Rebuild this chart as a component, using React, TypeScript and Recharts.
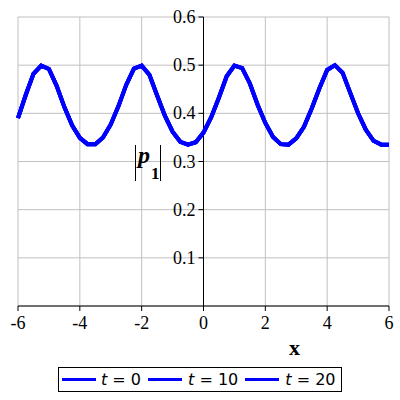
import {
  LineChart,
  Line,
  XAxis,
  YAxis,
  CartesianGrid,
  ReferenceLine,
} from "recharts";

// sample positions along x
const xValues = [
  -6, -5.75, -5.5, -5.25, -5, -4.75, -4.5, -4.25, -4, -3.75, -3.5, -3.25, -3,
  -2.75, -2.5, -2.25, -2, -1.75, -1.5, -1.25, -1, -0.75, -0.5, -0.25, 0, 0.25,
  0.5, 0.75, 1, 1.25, 1.5, 1.75, 2, 2.25, 2.5, 2.75, 3, 3.25, 3.5, 3.75, 4,
  4.25, 4.5, 4.75, 5, 5.25, 5.5, 5.75, 6,
];

// |p1|, the three times lie on top of each other
const p1T0 = [
  0.39, 0.438, 0.482, 0.499, 0.492, 0.457, 0.413, 0.375, 0.349, 0.336, 0.336,
  0.35, 0.377, 0.415, 0.459, 0.493, 0.499, 0.48, 0.437, 0.395, 0.362, 0.341,
  0.335, 0.34, 0.36, 0.392, 0.433, 0.477, 0.499, 0.494, 0.462, 0.418, 0.38,
  0.351, 0.336, 0.335, 0.348, 0.372, 0.41, 0.452, 0.49, 0.5, 0.484, 0.442, 0.4,
  0.366, 0.343, 0.335, 0.335,
];
const p1T10 = p1T0;
const p1T20 = p1T0;

const seriesNames = ["t = 0", "t = 10", "t = 20"];
const seriesKeys = ["t0", "t10", "t20"];
const xTicks = [-6, -4, -2, 0, 2, 4, 6];
const yTicks = [0.1, 0.2, 0.3, 0.4, 0.5, 0.6];

const data = xValues.map((x, i) => ({
  x,
  t0: p1T0[i],
  t10: p1T10[i],
  t20: p1T20[i],
}));

const W = 400;
const H = 400;
const xAxisHeight = 30;
const margin = { top: 17, right: 11, bottom: 94 - xAxisHeight, left: 17 };
const yAxisWidth = 1;
// pixel where x = 0 sits, the y axis is drawn there
const plotLeft = margin.left + yAxisWidth;
const X0 = plotLeft + ((W - plotLeft - margin.right) * 6) / 12;
const serif = "Liberation Serif, Times New Roman, serif";
const blue = "#0000ff";

function YTick(props: any) {
  const { y, payload } = props;
  return (
    <g>
      <line x1={X0 - 5} x2={X0} y1={y} y2={y} stroke="#000" />
      <text
        x={X0 - 8}
        y={y + 6}
        textAnchor="end"
        style={{ fontFamily: serif, fontSize: 18 }}
        fill="#000"
      >
        {Number(payload.value).toFixed(1)}
      </text>
    </g>
  );
}

function XTick(props: any) {
  const { x, y, payload } = props;
  return (
    <text
      x={x}
      y={y + 16}
      textAnchor="middle"
      style={{ fontFamily: serif, fontSize: 18 }}
      fill="#000"
    >
      {payload.value}
    </text>
  );
}

function LegendBox() {
  return (
    <div
      style={{
        position: "absolute",
        left: 58,
        top: 367,
        display: "flex",
        alignItems: "center",
        border: "1px solid #000",
        height: 23,
        padding: "0 6px 0 3px",
        fontFamily: "DejaVu Sans, Verdana, sans-serif",
        fontSize: 16,
        color: "#000",
        background: "#fff",
        whiteSpace: "nowrap",
      }}
    >
      {seriesNames.map((name, i) => (
        <span key={i} style={{ display: "flex", alignItems: "center" }}>
          <span
            style={{
              display: "inline-block",
              width: 34,
              height: 3,
              background: blue,
              marginRight: i === 0 ? 5 : 6,
            }}
          />
          <span style={{ marginRight: i < 2 ? 7 : 0 }}>
            <i>t</i>
            {name.slice(1)}
          </span>
        </span>
      ))}
    </div>
  );
}

export default function App() {
  return (
    <div style={{ position: "absolute", left: 0, top: 0, width: W, height: H }}>
      <LineChart width={W} height={H} data={data} margin={margin}>
        <CartesianGrid stroke="#c0c0c0" strokeWidth={1} />
        <XAxis
          dataKey="x"
          type="number"
          domain={[-6, 6]}
          ticks={xTicks}
          interval={0}
          height={xAxisHeight}
          axisLine={{ stroke: "#000" }}
          tickLine={{ stroke: "#000" }}
          tickSize={5}
          tick={<XTick />}
          label={{
            value: "x",
            position: "insideBottomRight",
            offset: 0,
            dx: -89,
            dy: 19,
            style: {
              fontFamily: serif,
              fontWeight: "bold",
              fontSize: 22,
              fill: "#000",
            },
          }}
        />
        <YAxis
          type="number"
          domain={[0, 0.6]}
          ticks={yTicks}
          width={yAxisWidth}
          axisLine={false}
          tickLine={false}
          tick={<YTick />}
          interval={0}
        />
        <ReferenceLine x={0} stroke="#000" strokeWidth={1} />
        {seriesKeys.map((k, i) => (
          <Line
            key={k}
            dataKey={k}
            name={seriesNames[i]}
            type="linear"
            stroke={blue}
            strokeWidth={4}
            dot={false}
            isAnimationActive={false}
          />
        ))}
      </LineChart>
      <LegendBox />
      <div
        style={{
          position: "absolute",
          left: 135,
          top: 145,
          height: 36,
          width: 24,
          borderLeft: "1px solid #000",
          borderRight: "1px solid #000",
          fontFamily: serif,
          color: "#000",
          lineHeight: 1,
          whiteSpace: "nowrap",
        }}
      >
        <span
          style={{
            position: "absolute",
            left: 2,
            top: -2,
            fontSize: 24,
            fontWeight: "bold",
            fontStyle: "italic",
          }}
        >
          p
        </span>
        <span
          style={{
            position: "absolute",
            left: 15,
            top: 20,
            fontSize: 17,
            fontWeight: "bold",
          }}
        >
          1
        </span>
      </div>
    </div>
  );
}
